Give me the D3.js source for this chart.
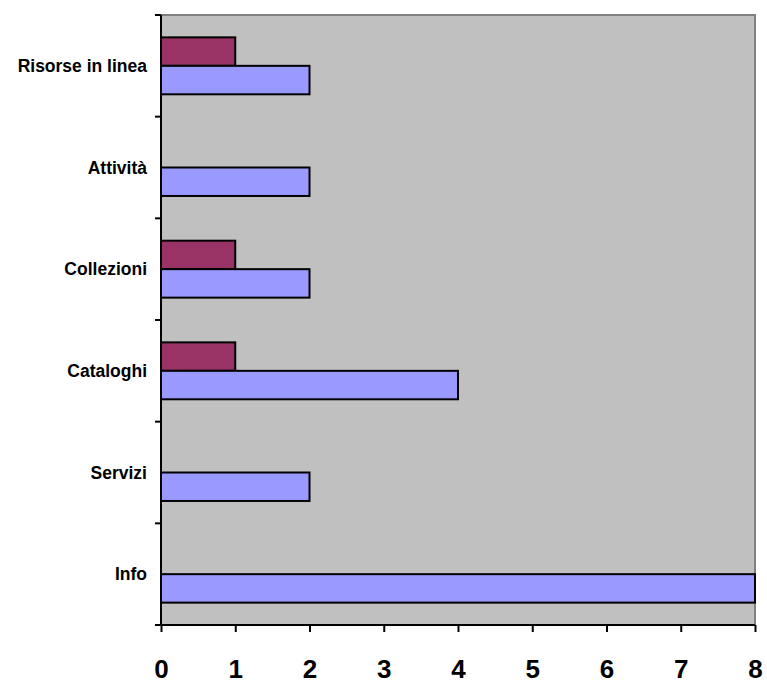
<!DOCTYPE html>
<html><head><meta charset="utf-8">
<script src="https://cdn.jsdelivr.net/npm/d3@7"></script>
<style>body{margin:0;background:#fff}svg{display:block}</style>
</head><body>
<svg id="c" width="767" height="684"></svg>
<script>
const categories = ["Info","Servizi","Cataloghi","Collezioni","Attività","Risorse in linea"];
const series1 = [8,2,4,2,2,2];
const series2 = [0,0,1,1,0,1];
const xTicks = [0,1,2,3,4,5,6,7,8];

const svg = d3.select("#c");
const L=161, R=755, T=15, B=625;
const x = d3.scaleLinear().domain([0,8]).range([L,R]);
const y = d3.scaleBand().domain(categories).range([B,T]);
const bh = y.bandwidth()*0.28;

svg.append("rect").attr("x",L).attr("y",T).attr("width",R-L).attr("height",B-T)
  .attr("fill","#C0C0C0").attr("stroke","#808080").attr("stroke-width",2);

const g = svg.append("g");
categories.forEach((c,i)=>{
  const cy = y(c)+y.bandwidth()/2;
  if(series2[i]>0) g.append("rect").attr("x",x(0)).attr("y",cy-bh).attr("width",x(series2[i])-x(0)).attr("height",bh)
    .attr("fill","#993366").attr("stroke","#000").attr("stroke-width",2);
  g.append("rect").attr("x",x(0)).attr("y",cy).attr("width",x(series1[i])-x(0)).attr("height",bh)
    .attr("fill","#9999FF").attr("stroke","#000").attr("stroke-width",2);
});

// y axis
const yb = d3.range(categories.length+1).map(i=>B-i*y.step());
svg.append("line").attr("x1",L).attr("x2",L).attr("y1",T).attr("y2",B).attr("stroke","#000").attr("stroke-width",2);
yb.forEach(v=>svg.append("line").attr("x1",L-6).attr("x2",L).attr("y1",v).attr("y2",v).attr("stroke","#000").attr("stroke-width",2));
categories.forEach(c=>svg.append("text").attr("x",147).attr("y",y(c)+y.bandwidth()/2).attr("dy","0.35em")
  .attr("text-anchor","end").attr("font-family","Liberation Sans, Arial, sans-serif").attr("font-weight","bold")
  .attr("font-size",17.5).text(c));

// x axis
const xa = svg.append("g").attr("transform",`translate(0,${B})`)
  .call(d3.axisBottom(x).tickValues(xTicks).tickSize(7).tickSizeOuter(0).tickPadding(28).tickFormat(d3.format("d")));
xa.select(".domain").attr("stroke","#000").attr("stroke-width",2);
xa.selectAll(".tick line").attr("stroke","#000").attr("stroke-width",2);
xa.selectAll(".tick text").attr("font-family","Liberation Sans, Arial, sans-serif").attr("font-weight","bold").attr("font-size",26).attr("fill","#000");
xa.select(".domain").attr("d",`M${L-6},0H${R}`);
</script>
</body></html>
